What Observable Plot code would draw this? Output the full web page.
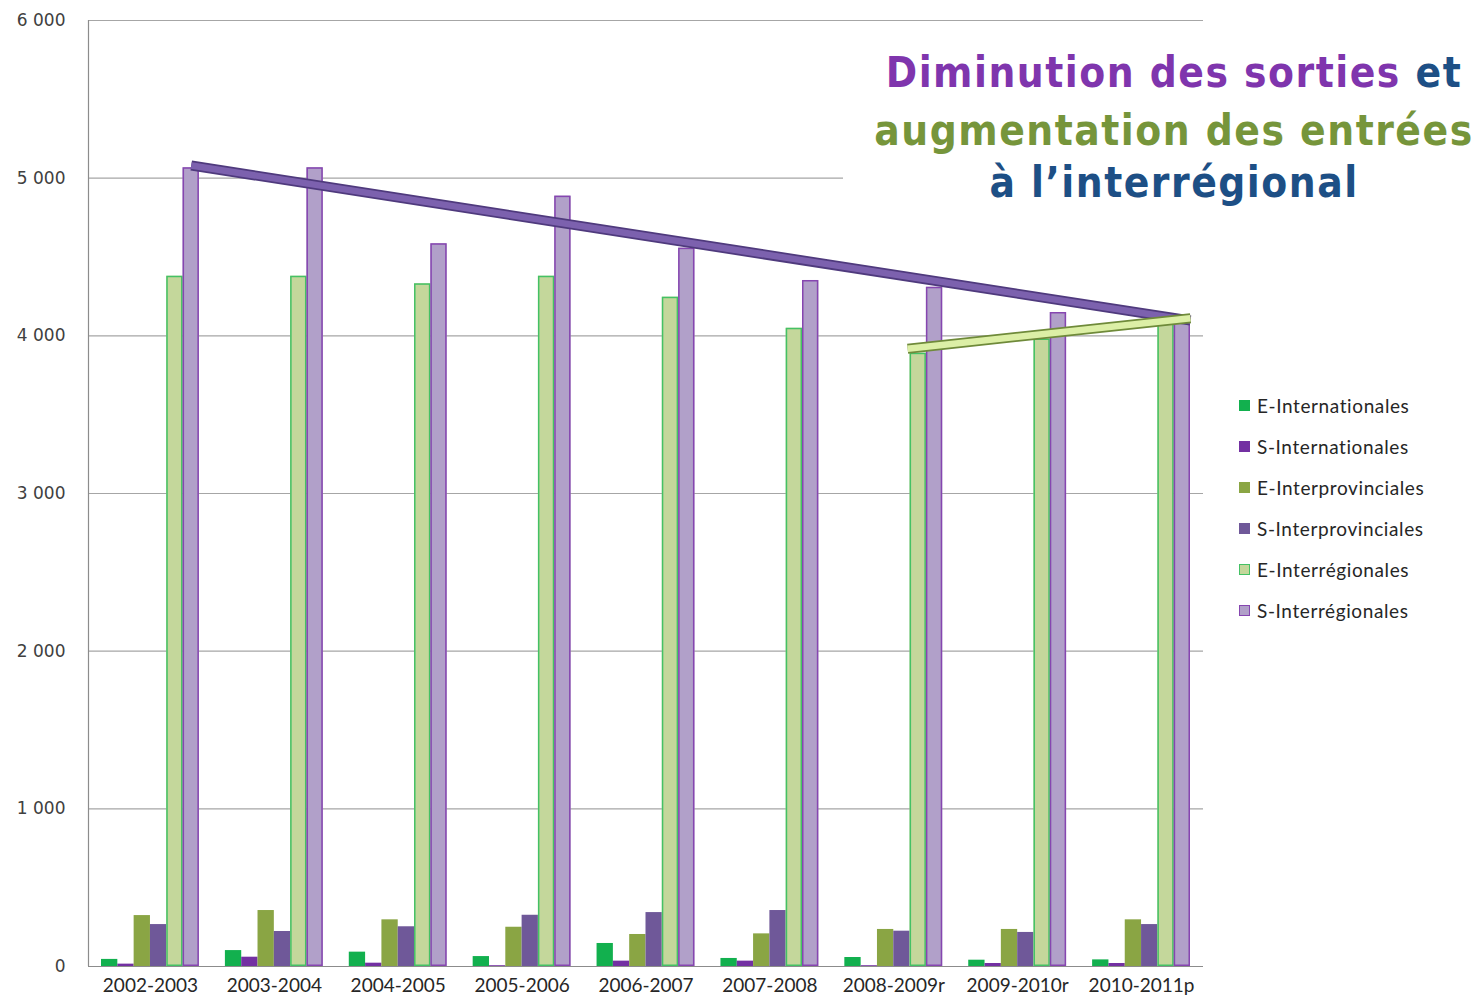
<!DOCTYPE html>
<html><head><meta charset="utf-8">
<script src="https://cdn.jsdelivr.net/npm/d3@7"></script>
<script src="https://cdn.jsdelivr.net/npm/@observablehq/plot@0.6"></script>
<style>
body{margin:0;background:#fff;}
#wrap{position:relative;width:1477px;height:1007px;overflow:hidden;background:#fff;}
#chart{position:absolute;left:0;top:0;}
#title{position:absolute;left:843px;top:44px;width:606px;padding-left:28px;height:170px;background:#fff;text-align:center;font-family:"DejaVu Sans Condensed","DejaVu Sans";font-weight:bold;font-size:42px;line-height:58px;letter-spacing:1.5px;white-space:nowrap;}
#legend{position:absolute;left:1239px;top:394px;font-family:Lato;font-size:19px;letter-spacing:0.6px;color:#262626;}
.item{height:41px;display:flex;align-items:flex-start;}
.sw{width:11px;height:11px;margin-right:7px;margin-top:6px;box-sizing:border-box;}
</style>
</head><body>
<div id="wrap">
<div id="chart"></div>
<div id="title"></div>
<div id="legend"></div>
</div>
<script>
const years = ["2002-2003","2003-2004","2004-2005","2005-2006","2006-2007","2007-2008","2008-2009r","2009-2010r","2010-2011p"];
const seriesNames = ["E-Internationales","S-Internationales","E-Interprovinciales","S-Interprovinciales","E-Interrégionales","S-Interrégionales"];
const eInternationales    = [45, 101, 91, 63, 146, 51, 57, 40, 42];
const sInternationales    = [15, 59, 21, 5, 34, 34, 5, 19, 19];
const eInterprovinciales  = [323, 355, 296, 249, 203, 207, 235, 235, 296];
const sInterprovinciales  = [266, 222, 252, 325, 342, 355, 224, 216, 266];
const eInterregionales    = [4378, 4378, 4330, 4378, 4245, 4048, 3890, 3980, 4090];
const sInterregionales    = [5066, 5066, 4584, 4886, 4556, 4351, 4308, 4148, 4085];
const yTicks = [0, 1000, 2000, 3000, 4000, 5000, 6000];
// trend annotations: year, slot position within the year's bar cluster (0..6), value
const sortiesTrend = [{year:"2002-2003", slot:5.5, value:5080},{year:"2010-2011p", slot:6, value:4097}];
const entreesTrend = [{year:"2008-2009r", slot:3.85, value:3918},{year:"2010-2011p", slot:6, value:4112}];

const seriesValues = [eInternationales, sInternationales, eInterprovinciales, sInterprovinciales, eInterregionales, sInterregionales];
const fills   = ["#12b04e","#7330a2","#8aa544","#6f5899","#c4d79b","#b1a0c9"];
const strokes = [null, null, null, null, "#44c165", "#8646b0"];

const data = seriesValues.flatMap((vals, j) => vals.map((v, i) => ({year: years[i], i, j, series: seriesNames[j], value: v})));
const G = 0.105, W = 0.79 / 6;
const bx1 = d => d.i + G + d.j * W;
const bx2 = d => d.i + G + (d.j + 1) * W;
const tx = d => years.indexOf(d.year) + G + d.slot * W;
const fmt = v => d3.format(",")(v).replace(/,/g, " ");

const plot = Plot.plot({
  width: 1220, height: 1007,
  marginLeft: 88, marginRight: 17, marginTop: 20, marginBottom: 41,
  style: {background: "transparent", fontFamily: "Lato", fontSize: "19px", color: "#262626"},
  x: {domain: [0, years.length], label: null},
  y: {domain: [0, 6000], label: null},
  marks: [
    Plot.ruleY(yTicks.filter(t => t > 0), {stroke: "#a6a6a6", strokeWidth: 1.2}),
    Plot.rect(data, {x1: bx1, x2: bx2, y1: 0, y2: "value", fill: d => fills[d.j]}),
    Plot.rect(data.filter(d => strokes[d.j]), {x1: bx1, x2: bx2, y1: 0, y2: "value", fill: "none", stroke: d => strokes[d.j], strokeWidth: 1.5, inset: 0.75}),
    Plot.ruleX([0], {stroke: "#8c8c8c", strokeWidth: 1.2}),
    Plot.ruleY([0], {stroke: "#8c8c8c", strokeWidth: 1.2}),
    Plot.line(sortiesTrend, {x: tx, y: "value", stroke: "#4f3a7d", strokeWidth: 10, strokeLinecap: "butt"}),
    Plot.line(sortiesTrend, {x: tx, y: "value", stroke: "#7c61ae", strokeWidth: 6.5, strokeLinecap: "butt"}),
    Plot.line(entreesTrend, {x: tx, y: "value", stroke: "#6f8a3a", strokeWidth: 10, strokeLinecap: "butt"}),
    Plot.line(entreesTrend, {x: tx, y: "value", stroke: "#dcefa6", strokeWidth: 6.5, strokeLinecap: "butt"}),
    Plot.axisX(years.map((_, i) => i + 0.5), {tickFormat: v => years[Math.floor(v)], tickSize: 0, tickPadding: 12, fontSize: 19, letterSpacing: 0.4, label: null}),
    Plot.axisY(yTicks, {tickFormat: fmt, tickSize: 0, tickPadding: 23, fontSize: 17, fontFamily: "DejaVu Sans", fill: "#404040", label: null})
  ]
});
document.getElementById("chart").appendChild(plot);

const title = document.getElementById("title");
title.innerHTML =
  '<div><span style="color:#7f35ad">Diminution des sorties</span> <span style="color:#1d4f85">et</span></div>' +
  '<div style="color:#76953b">augmentation des entrées</div>' +
  '<div style="color:#1d4f85;line-height:46px">à l’interrégional</div>';

const legend = document.getElementById("legend");
seriesNames.forEach((s, j) => {
  const it = document.createElement("div");
  it.className = "item";
  const sw = document.createElement("div");
  sw.className = "sw";
  sw.style.background = fills[j];
  if (strokes[j]) sw.style.border = "1.5px solid " + strokes[j];
  const tx = document.createElement("span");
  tx.textContent = s;
  it.appendChild(sw); it.appendChild(tx);
  legend.appendChild(it);
});
</script>
</body></html>
